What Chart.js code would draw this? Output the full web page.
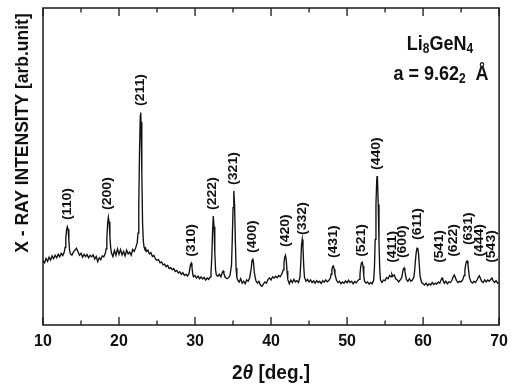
<!DOCTYPE html>
<html>
<head>
<meta charset="utf-8">
<script src="https://cdn.jsdelivr.net/npm/chart.js@4.4.0/dist/chart.umd.min.js"></script>
<style>
  html, body { margin: 0; padding: 0; background: #fff; }
  canvas { display: block; }
</style>
</head>
<body>
<canvas id="xrdChart" width="515" height="386"></canvas>
<script>
// 2theta (deg) and intensity (arb. units, 0-100 full frame height)
const twoTheta = [
  10.0, 10.2, 10.4, 10.6, 10.8, 11.0, 11.2, 11.4, 11.6, 11.8, 12.0, 12.2, 12.4, 12.6, 12.8, 12.9,
  13.0, 13.1, 13.2, 13.3, 13.4, 13.5, 13.6, 13.8, 14.0, 14.2, 14.4, 14.6, 14.8, 15.0, 15.2, 15.4,
  15.6, 15.8, 16.0, 16.2, 16.4, 16.6, 16.8, 17.0, 17.2, 17.4, 17.6, 17.8, 18.0, 18.2, 18.3, 18.4,
  18.5, 18.6, 18.7, 18.8, 18.9, 19.0, 19.2, 19.4, 19.6, 19.8, 20.0, 20.2, 20.4, 20.6, 20.8, 21.0,
  21.2, 21.4, 21.6, 21.8, 22.0, 22.2, 22.4, 22.5, 22.6, 22.7, 22.8, 22.85, 22.9, 23.0, 23.1, 23.2,
  23.3, 23.4, 23.5, 23.6, 23.8, 24.0, 24.2, 24.4, 24.6, 24.8, 25.0, 25.2, 25.4, 25.6, 25.8, 26.0,
  26.2, 26.4, 26.6, 26.8, 27.0, 27.2, 27.4, 27.6, 27.8, 28.0, 28.2, 28.4, 28.6, 28.8, 29.0, 29.2,
  29.3, 29.4, 29.5, 29.6, 29.7, 29.8, 30.0, 30.2, 30.4, 30.6, 30.8, 31.0, 31.2, 31.4, 31.6, 31.8,
  32.0, 32.1, 32.2, 32.3, 32.4, 32.5, 32.6, 32.7, 32.8, 33.0, 33.2, 33.4, 33.6, 33.7, 33.8, 34.0,
  34.2, 34.4, 34.6, 34.8, 34.9, 35.0, 35.1, 35.2, 35.3, 35.4, 35.5, 35.6, 35.8, 36.0, 36.2, 36.4,
  36.6, 36.8, 37.0, 37.2, 37.4, 37.5, 37.6, 37.7, 37.8, 38.0, 38.2, 38.4, 38.6, 38.8, 39.0, 39.2,
  39.4, 39.6, 39.8, 40.0, 40.2, 40.4, 40.6, 40.8, 41.0, 41.2, 41.4, 41.6, 41.7, 41.8, 41.9, 42.0,
  42.1, 42.2, 42.4, 42.6, 42.8, 43.0, 43.2, 43.4, 43.6, 43.8, 43.9, 44.0, 44.1, 44.2, 44.3, 44.4,
  44.6, 44.8, 45.0, 45.2, 45.4, 45.6, 45.8, 46.0, 46.2, 46.4, 46.6, 46.8, 47.0, 47.2, 47.4, 47.6,
  47.8, 47.9, 48.0, 48.1, 48.2, 48.3, 48.4, 48.6, 48.8, 49.0, 49.2, 49.4, 49.6, 49.8, 50.0, 50.2,
  50.4, 50.6, 50.8, 51.0, 51.2, 51.4, 51.6, 51.7, 51.8, 51.9, 52.0, 52.1, 52.2, 52.3, 52.5, 52.7,
  52.9, 53.1, 53.3, 53.5, 53.6, 53.7, 53.8, 53.9, 53.95, 54.0, 54.1, 54.2, 54.3, 54.4, 54.6, 54.8,
  55.0, 55.2, 55.4, 55.6, 55.8, 55.9, 56.0, 56.2, 56.4, 56.6, 56.8, 57.0, 57.2, 57.3, 57.4, 57.5,
  57.6, 57.7, 57.8, 58.0, 58.2, 58.4, 58.6, 58.8, 58.9, 59.0, 59.1, 59.2, 59.3, 59.4, 59.5, 59.6,
  59.8, 60.0, 60.2, 60.4, 60.6, 60.8, 61.0, 61.2, 61.4, 61.6, 61.8, 62.0, 62.2, 62.4, 62.5, 62.6,
  62.8, 63.0, 63.2, 63.4, 63.6, 63.8, 64.0, 64.1, 64.2, 64.4, 64.6, 64.8, 65.0, 65.2, 65.4, 65.5,
  65.6, 65.7, 65.8, 65.9, 66.0, 66.1, 66.3, 66.5, 66.7, 66.9, 67.1, 67.3, 67.4, 67.5, 67.7, 67.9,
  68.1, 68.3, 68.5, 68.7, 68.9, 69.05, 69.2, 69.4, 69.6, 69.8, 70.0
];
const intensity = [
  20.3, 19.6, 21.0, 20.1, 21.4, 20.5, 21.8, 20.9, 22.0, 21.2, 22.3, 21.5, 22.6, 21.9, 23.0, 24.5,
  27.5, 30.0, 31.0, 30.2, 27.0, 23.5, 22.4, 22.0, 23.0, 23.6, 24.2, 23.1, 22.0, 22.6, 21.4, 22.3,
  21.6, 22.2, 21.2, 22.0, 21.5, 22.1, 20.8, 21.6, 20.0, 21.2, 20.6, 21.8, 21.5, 22.6, 24.0, 27.5,
  32.0, 34.0, 32.5, 28.0, 24.5, 22.8, 21.6, 23.5, 22.0, 24.0, 22.3, 23.8, 22.1, 23.2, 21.8, 23.6,
  22.4, 23.0, 22.0, 23.8, 23.2, 24.4, 26.0, 29.0, 38.0, 55.0, 66.0, 67.0, 64.0, 48.0, 32.0, 26.5,
  24.5, 24.0, 24.3, 23.2, 23.6, 22.4, 22.8, 21.6, 21.9, 20.8, 20.4, 20.6, 19.6, 19.9, 19.0, 19.2,
  18.4, 18.8, 17.8, 18.1, 17.4, 17.8, 16.9, 17.2, 16.4, 16.8, 16.0, 16.5, 15.6, 16.0, 15.4, 16.2,
  17.5, 19.0, 19.5, 18.2, 16.0, 15.2, 15.6, 14.8, 15.4, 14.6, 15.2, 14.5, 15.0, 14.2, 14.8, 14.4,
  15.2, 16.5, 21.0, 29.0, 34.4, 31.0, 23.0, 17.5, 15.8, 15.4, 16.0, 15.2, 16.6, 17.0, 16.2, 15.0,
  14.6, 14.9, 15.6, 19.0, 27.0, 37.0, 42.3, 38.0, 27.0, 18.0, 15.0, 14.2, 13.5, 14.6, 13.2, 13.8,
  13.0, 14.2, 13.8, 15.0, 18.0, 20.4, 21.0, 19.5, 16.5, 14.0, 13.2, 13.8, 12.6, 12.2, 13.0, 13.6,
  13.2, 14.4, 14.8, 14.2, 15.2, 14.8, 15.4, 14.9, 15.6, 15.2, 16.0, 17.4, 19.5, 21.4, 22.0, 20.5,
  17.0, 14.4, 13.0, 14.2, 13.4, 14.4, 13.6, 14.0, 13.4, 15.0, 19.0, 25.0, 27.0, 24.5, 18.5, 15.0,
  13.8, 14.4, 13.6, 14.2, 13.4, 13.9, 13.2, 14.0, 13.4, 13.8, 13.1, 14.0, 13.5, 14.2, 13.6, 14.0,
  14.8, 16.0, 17.5, 18.4, 18.6, 17.6, 16.0, 14.2, 13.4, 13.8, 13.0, 13.6, 13.2, 13.9, 13.3, 14.1,
  13.4, 13.8, 13.0, 13.7, 13.3, 14.0, 14.4, 16.0, 18.5, 19.6, 19.8, 18.6, 15.5, 13.8, 13.2, 13.6,
  12.9, 13.4, 13.0, 14.2, 18.0, 27.0, 38.0, 45.5, 47.0, 46.0, 38.0, 26.0, 17.5, 14.2, 13.4, 14.2,
  14.0, 15.0, 14.6, 15.6, 15.2, 16.0, 15.4, 15.8, 14.6, 14.2, 13.6, 14.2, 15.0, 16.5, 17.6, 18.0,
  17.2, 15.6, 14.4, 13.8, 14.6, 13.8, 14.2, 15.2, 17.5, 20.5, 23.0, 24.2, 24.3, 22.5, 19.0, 15.5,
  13.4, 13.0, 12.6, 13.2, 12.4, 13.0, 12.6, 13.4, 12.8, 13.2, 12.9, 13.6, 13.2, 14.4, 14.8, 14.2,
  13.2, 13.8, 13.0, 13.6, 13.4, 14.2, 15.4, 15.8, 15.2, 14.0, 13.4, 13.8, 13.6, 14.2, 15.6, 17.5,
  19.0, 20.0, 20.2, 19.2, 17.0, 15.0, 13.6, 13.2, 13.8, 13.4, 14.2, 15.2, 15.5, 15.0, 13.8, 13.4,
  14.2, 13.6, 14.2, 13.8, 14.4, 14.8, 14.0, 13.4, 14.0, 13.2, 13.4
];

// Miller index labels: text, 2theta of the label, intensity where the label starts
const hklText = ['(110)', '(200)', '(211)', '(310)', '(222)', '(321)', '(400)', '(420)', '(332)', '(431)',
                 '(521)', '(440)', '(411)', '(600)', '(611)', '(541)', '(622)', '(631)', '(444)', '(543)'];
const hklTheta = [13.25, 18.5, 22.76, 29.57, 32.26, 35.08, 37.5, 41.85, 44.1, 48.2,
                  51.9, 53.86, 55.95, 57.34, 59.3, 62.2, 63.94, 65.9, 67.4, 68.96];
const hklLevel = [33.1, 36.3, 69.1, 21.5, 36.3, 44.2, 22.7, 24.6, 28.4, 21.1,
                  21.5, 48.9, 19.6, 21.1, 26.8, 19.6, 21.5, 25.2, 21.5, 19.6];

const xMajorTicks = [10, 20, 30, 40, 50, 60, 70];
const xMinorTicks = [15, 25, 35, 45, 55, 65];

const FONT = '"Liberation Sans", Arial, Helvetica, sans-serif';

// frame, inward ticks, titles and annotations
const decorPlugin = {
    id: 'decor',
    afterDraw(chart) {
        const ctx = chart.ctx;
        const area = chart.chartArea;
        const xs = chart.scales.x;
        const ys = chart.scales.y;

        ctx.save();
        ctx.strokeStyle = '#1a1a1a';
        ctx.lineWidth = 1.5;
        ctx.strokeRect(area.left, area.top, area.right - area.left, area.bottom - area.top);

        ctx.lineWidth = 1.3;
        ctx.beginPath();
        xMajorTicks.forEach(v => {
            const px = xs.getPixelForValue(v);
            ctx.moveTo(px, area.bottom); ctx.lineTo(px, area.bottom - 8);
            ctx.moveTo(px, area.top); ctx.lineTo(px, area.top + 8);
        });
        xMinorTicks.forEach(v => {
            const px = xs.getPixelForValue(v);
            ctx.moveTo(px, area.bottom); ctx.lineTo(px, area.bottom - 4.5);
            ctx.moveTo(px, area.top); ctx.lineTo(px, area.top + 4.5);
        });
        ctx.stroke();

        ctx.fillStyle = '#111';

        // hkl labels, slightly stretched along the text like the original scan
        ctx.font = 'bold 13px ' + FONT;
        ctx.textAlign = 'left';
        ctx.textBaseline = 'middle';
        hklText.forEach((t, i) => {
            const px = xs.getPixelForValue(hklTheta[i]);
            const py = ys.getPixelForValue(hklLevel[i]);
            ctx.save();
            ctx.translate(px, py);
            ctx.rotate(-Math.PI / 2);
            ctx.scale(1.08, 1);
            ctx.fillText(t, 0, 0);
            ctx.restore();
        });

        // y title
        ctx.save();
        ctx.font = 'bold 17.5px ' + FONT;
        ctx.textAlign = 'center';
        ctx.textBaseline = 'middle';
        ctx.translate(23, 133);
        ctx.rotate(-Math.PI / 2);
        ctx.scale(1, 1.1);
        ctx.fillText('X - RAY INTENSITY [arb.unit]', 0, 0);
        ctx.restore();

        // x title with italic theta
        const parts = [
            ['2', 'bold 19px ' + FONT],
            ['\u03B8', 'italic bold 19px ' + FONT],
            [' [deg.]', 'bold 19px ' + FONT]
        ];
        drawRuns(ctx, parts, (area.left + area.right) / 2, 374, 1.05);

        // formula block
        const big = 'bold 18px ' + FONT;
        const sub = 'bold 12px ' + FONT;
        drawRuns(ctx, [['Li', big], ['8', sub, 5], ['GeN', big], ['4', sub, 5]], 440, 44, 1.15);
        drawRuns(ctx, [['a = 9.62', big], ['2', sub, 5], ['  \u00C5', big]], 441, 74, 1.15);

        ctx.restore();
    }
};

// draws a row of differently styled text pieces centred on x, stretched vertically by sy
function drawRuns(ctx, runs, x, y, sy) {
    let total = 0;
    runs.forEach(r => { ctx.font = r[1]; total += ctx.measureText(r[0]).width; });
    let cx = x - total / 2;
    ctx.save();
    ctx.translate(0, y);
    ctx.scale(1, sy);
    ctx.textAlign = 'left';
    ctx.textBaseline = 'middle';
    runs.forEach(r => {
        ctx.font = r[1];
        ctx.fillText(r[0], cx, (r[2] || 0) / sy);
        cx += ctx.measureText(r[0]).width;
    });
    ctx.restore();
}

const chart = new Chart(document.getElementById('xrdChart'), {
    type: 'line',
    data: {
        datasets: [{
            data: twoTheta.map((t, i) => ({ x: t, y: intensity[i] })),
            borderColor: '#111',
            borderWidth: 1.35,
            pointRadius: 0,
            tension: 0,
            fill: false
        }]
    },
    options: {
        responsive: false,
        devicePixelRatio: 1,
        animation: false,
        layout: { padding: { left: 43, right: 11, top: 8, bottom: 0 } },
        plugins: {
            legend: { display: false },
            tooltip: { enabled: false }
        },
        scales: {
            x: {
                type: 'linear',
                min: 10,
                max: 70,
                grid: { display: false, drawTicks: false },
                border: { display: false },
                ticks: {
                    stepSize: 10,
                    padding: 7,
                    color: '#111',
                    font: { family: FONT, size: 16, weight: 'bold' }
                },
                afterFit(scale) { scale.height = 61; }
            },
            y: {
                display: false,
                min: 0,
                max: 100
            }
        }
    },
    plugins: [decorPlugin]
});
</script>
</body>
</html>
